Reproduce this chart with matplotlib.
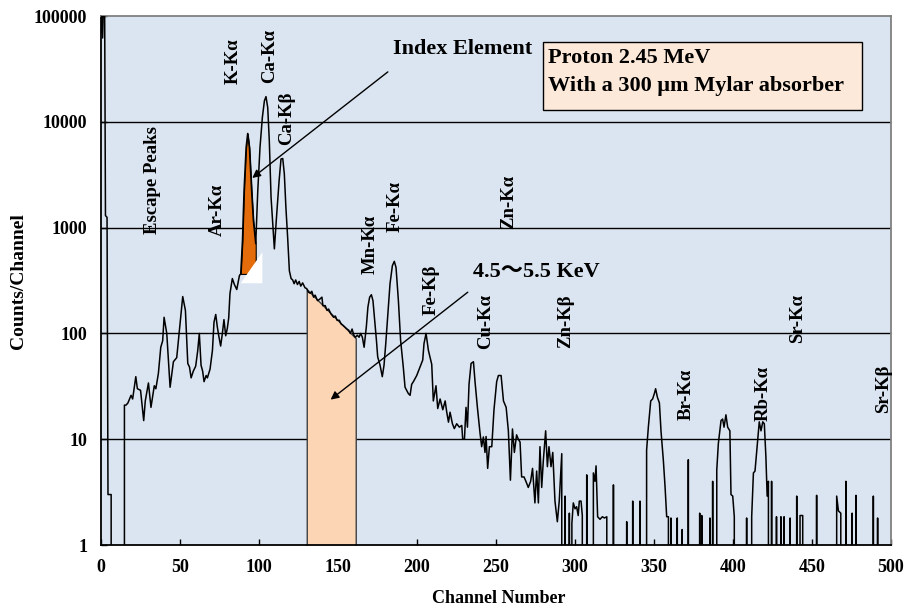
import numpy as np
import matplotlib
matplotlib.use('Agg')
import matplotlib.pyplot as plt
from matplotlib.patches import Polygon, Rectangle

plt.rcParams['font.family'] = ['Liberation Serif', 'Noto Sans CJK JP', 'DejaVu Sans']
plt.rcParams['font.weight'] = 'bold'

# spectrum (zero = empty channel)
channel = [0.0, 0.5, 1.0, 1.6, 2.3, 2.8, 3.8, 4.4, 6.4, 6.9, 14.6, 14.8, 15.8, 17.0, 19.0, 20.0,
           22.0, 23.0, 25.0, 27.0, 28.0, 30.0, 31.6, 33.7, 34.7, 36.3, 37.8, 39.0, 39.9, 41.6,
           43.7, 45.8, 47.9, 50.0, 51.7, 53.4, 54.9, 56.0, 57.0, 58.4, 59.9, 61.2, 62.2, 63.3,
           64.3, 65.2, 66.5, 67.3, 69.0, 70.5, 71.5, 72.6, 73.6, 74.5, 75.7, 76.8, 77.8, 78.9,
           79.9, 80.8, 81.6, 83.1, 84.4, 85.9, 87.6, 88.4, 89.5, 90.5, 91.8, 92.8, 93.9, 95.3,
           96.4, 97.9, 99.2, 100.6, 102.1, 103.4, 104.4, 105.5, 106.5, 107.6, 109.7, 111.2,
           112.7, 113.9, 115.0, 116.0, 117.0, 118.1, 119.2, 120.3, 121.3, 122.2, 123.2, 124.3,
           125.4, 126.4, 127.6, 129.1, 130.2, 131.3, 132.4, 133.4, 134.5, 135.5, 137.0, 138.3,
           139.8, 140.4, 141.9, 143.0, 144.0, 145.5, 147.2, 148.3, 149.4, 150.8, 151.9, 153.2,
           154.3, 155.7, 156.8, 157.8, 158.9, 160.0, 161.0, 162.2, 163.3, 164.3, 165.4, 166.5,
           167.9, 168.9, 170.0, 171.1, 172.1, 173.2, 174.3, 175.1, 176.6, 178.0, 179.1, 180.2,
           181.4, 182.9, 184.4, 185.6, 186.7, 188.2, 189.6, 191.3, 192.4, 194.5, 195.6, 196.6,
           197.7, 199.8, 201.9, 203.6, 204.4, 205.7, 207.2, 209.3, 210.3, 212.0, 213.1, 214.6,
           216.3, 217.8, 218.8, 219.9, 220.9, 222.4, 223.6, 225.1, 226.8, 228.3, 228.9, 230.0,
           231.0, 231.9, 232.9, 234.2, 235.7, 236.7, 238.2, 239.9, 240.9, 242.0, 243.0, 243.7,
           244.7, 245.8, 247.3, 248.7, 250.4, 251.5, 253.2, 254.7, 256.4, 257.8, 259.1, 260.4,
           261.6, 263.0, 264.1, 265.2, 266.2, 267.7, 268.9, 270.4, 271.9, 273.1, 274.6, 275.7,
           276.8, 277.8, 278.9, 279.9, 281.4, 282.5, 283.5, 284.8, 285.9, 287.3, 288.8, 290.0,
           291.6, 292.2, 293.7, 294.7, 296.4, 297.3, 298.0, 298.9, 300.0, 301.0, 302.0, 302.7,
           303.8, 304.6, 305.3, 307.4, 308.4, 310.1, 311.6, 312.6, 313.3, 314.3, 315.8, 317.3,
           318.6, 320.1, 321.1, 324.3, 324.9, 332.7, 333.3, 336.5, 337.2, 341.1, 342.3, 345.3,
           346.4, 347.9, 349.1, 350.2, 351.0, 352.1, 353.4, 354.4, 355.9, 357.0, 358.0, 359.1,
           359.6, 360.7, 361.2, 364.7, 365.2, 367.8, 368.3, 371.7, 372.3, 378.9, 379.5, 380.2,
           380.8, 385.4, 386.0, 387.1, 387.8, 389.7, 390.7, 392.4, 393.4, 394.3, 395.5, 396.6,
           398.0, 398.7, 399.8, 400.8, 401.2, 408.6, 409.1, 411.8, 412.9, 413.9, 415.4, 416.6,
           417.7, 418.8, 419.8, 420.8, 421.6, 422.4, 423.4, 424.4, 425.0, 427.5, 428.0, 430.3,
           430.8, 432.3, 432.8, 436.1, 436.6, 440.3, 440.9, 442.4, 444.1, 444.6, 452.9, 453.5,
           465.6, 466.7, 468.2, 468.7, 471.4, 472.0, 475.4, 476.0, 477.8, 478.4, 488.8, 489.4,
           491.5, 492.0, 500.0]
counts = [70000, 150000, 62000, 150000, 100000, 1300, 1250, 3, 3, 0, 0, 21, 21, 22, 26, 24,
          39, 30, 29, 15, 23, 34, 20, 32, 30, 42, 74, 85, 142, 100,
          31, 54, 59, 124, 223, 165, 52, 48, 38, 44, 49, 69, 100, 50,
          44, 35, 40, 38, 46, 69, 128, 151, 115, 95, 76, 100, 135, 95,
          111, 140, 238, 330, 290, 260, 353, 365, 754, 2230, 5700, 7760, 5700, 2230,
          1170, 705, 2230, 5700, 11000, 15800, 17300, 13600, 6600, 1940, 630, 1350,
          2770, 4450, 4500, 3230, 1550, 810, 390, 330, 320, 295, 320, 290,
          310, 280, 300, 270, 265, 245, 240, 250, 220, 230, 204, 210,
          220, 183, 183, 165, 170, 153, 142, 146, 133, 133, 123, 119,
          115, 110, 107, 100, 110, 96, 92, 96, 92, 100, 92, 74,
          115, 177, 220, 232, 204, 133, 86, 60, 50, 39, 50, 80,
          142, 295, 437, 480, 420, 204, 86, 48, 31, 27, 26, 33,
          35, 40, 48, 56, 80, 100, 69, 51, 23, 32, 19.5, 24,
          19, 23, 18, 14.5, 18, 14, 12.6, 14, 13, 13.5, 10, 10,
          20, 13, 33, 52, 54, 35, 20, 11.3, 8.5, 10.5, 7.5, 10.6,
          5.3, 8.5, 8.5, 19, 35, 40, 40, 23, 20, 12, 4.1, 12.5,
          7.5, 11, 10, 9.4, 4.4, 4.4, 4, 3.5, 4, 5.3, 2.5, 5,
          2.5, 8.5, 3.5, 6.2, 12, 5.5, 8.5, 5.5, 7.5, 2.6, 1.66, 2.6,
          7.3, 0, 2.9, 0, 2, 0, 1.6, 2.5, 2.2, 2.3, 1.9, 2.6,
          2.6, 1.9, 0, 4.6, 0, 0, 4.8, 4, 5.6, 1.85, 1.75, 1.85,
          1.8, 1.85, 0, 3.7, 0, 1.66, 0, 2.6, 0, 2.6, 0, 7.9,
          13, 23, 24, 27, 30, 25, 22, 12, 6.3, 3.5, 1.85, 1.85,
          0, 1.8, 0, 1.8, 0, 1.4, 0, 6.4, 0, 2, 0, 1.9,
          0, 1.8, 0, 4, 0, 5.1, 9.1, 15, 15.5, 13, 17, 13,
          12, 3, 2.9, 1.85, 0, 1.8, 0, 1.85, 4.8, 5, 9.1, 14.6,
          12, 14.6, 14, 6.8, 2.9, 4, 0, 4, 0, 1.85, 0, 1.85,
          0, 1.85, 0, 1.8, 0, 2.9, 0, 1.9, 1.9, 0, 2.95, 0,
          2.9, 2.1, 2, 0, 4, 0, 2, 0, 2.95, 0, 2.9, 0,
          1.8, 0, 0]

# shaded regions
index_range = [88.4, 97.9]
index_base = 365
mask_ch = [88.4, 102.1]
mask_counts = [298, 585]
band_ch = [130.2, 161.2]
band_top = [262, 90]

label_text = ['Escape Peaks', 'Ar-Kα', 'K-Kα', 'Ca-Kα', 'Ca-Kβ', 'Mn-Kα', 'Fe-Kα', 'Fe-Kβ',
              'Cu-Kα', 'Zn-Kα', 'Zn-Kβ', 'Br-Kα', 'Rb-Kα', 'Sr-Kα', 'Sr-Kβ']
label_ch = [32.6, 73.7, 83.7, 107.0, 117.5, 170.3, 186.4, 208.8, 243.7, 258.2, 294.3,
            370.6, 419.4, 440.8, 495.1]
label_log = [2.94, 2.92, 4.355, 4.37, 3.78, 2.56, 2.955, 2.17, 1.855, 2.99, 1.865,
             1.18, 1.17, 1.91, 1.25]

yticks = [1, 10, 100, 1000, 10000, 100000]
xticks = list(range(0, 501, 50))

ch = np.array(channel)
cts = np.array(counts, dtype=float)

fig = plt.figure(figsize=(9.07, 6.11), dpi=100)
ax = fig.add_axes([0.1114, 0.1080, 0.8710, 0.8658])
ax.set_facecolor('#dbe5f1')
ax.set_yscale('log', nonpositive='clip')
ax.set_xlim(0, 500)
ax.set_ylim(1, 100000)

for y in yticks[1:-1]:
    ax.axhline(y, color='black', lw=1.0, zorder=1)

# 4.5-5.5 keV band
ax.fill_between(band_ch, [0.01, 0.01], band_top, facecolor='#fcd5b5',
                edgecolor='#404040', lw=1.0, zorder=2)

# index element (K-Ka) area
m = (ch >= index_range[0]) & (ch <= index_range[1])
ax.fill_between(ch[m], index_base, cts[m], facecolor='#e46c0a', edgecolor='black',
                lw=0.8, zorder=2)
ax.add_patch(Polygon([(mask_ch[0], mask_counts[0]), (mask_ch[1], mask_counts[1]),
                      (mask_ch[1], mask_counts[0])], closed=True, facecolor='white',
                     edgecolor='none', zorder=2.5))

ax.plot(ch, cts, color='black', lw=1.1, zorder=3)

for t, x, ly in zip(label_text, label_ch, label_log):
    ax.text(x, 10 ** ly, t, rotation=90, ha='center', va='bottom', fontsize=13.5,
            fontweight='bold', zorder=4)

ax.annotate('', xy=(94.3, 2838), xytext=(182.9, 30760),
            arrowprops=dict(arrowstyle='-|>', color='black', lw=1.0, mutation_scale=12),
            zorder=5)
ax.text(184.8, 10 ** 4.69, 'Index Element', ha='left', va='center', fontsize=16,
        fontweight='bold')

ax.annotate('', xy=(143.9, 22.8), xytext=(233.5, 254.6),
            arrowprops=dict(arrowstyle='-|>', color='black', lw=1.0, mutation_scale=12),
            zorder=5)
ax.text(235.4, 10 ** 2.585, '4.5～5.5 KeV', ha='left', va='center', fontsize=16,
        fontweight='bold')

ax.add_patch(Rectangle((0.5595, 0.822), 0.4038, 0.129, transform=ax.transAxes,
                       facecolor='#fde9d9', edgecolor='black', lw=1.0, zorder=4))
ax.text(0.566, 0.920, 'Proton 2.45 MeV', transform=ax.transAxes, ha='left', va='center',
        fontsize=16, fontweight='bold', zorder=5)
ax.text(0.566, 0.868, 'With a 300 μm Mylar absorber', transform=ax.transAxes, ha='left',
        va='center', fontsize=16, fontweight='bold', zorder=5)

ax.set_xticks(xticks)
ax.set_yticks(yticks)
ax.set_yticklabels([str(v) for v in yticks])
ax.minorticks_off()
ax.tick_params(direction='in', length=4, width=1, labelsize=13, pad=10)
for lab in ax.get_xticklabels() + ax.get_yticklabels():
    lab.set_fontweight('bold')

ax.spines['left'].set_color('black')
ax.spines['bottom'].set_color('black')
ax.spines['top'].set_color('#808080')
ax.spines['right'].set_color('#808080')
for s in ax.spines.values():
    s.set_linewidth(1.3)

fig.text(0.550, 0.021, 'Channel Number', ha='center', va='center', fontsize=13,
         fontweight='bold')
fig.text(0.0204, 0.540, 'Counts/Channel', ha='center', va='center', rotation=90,
         fontsize=14, fontweight='bold')

fig.savefig('out.png', dpi=100)
